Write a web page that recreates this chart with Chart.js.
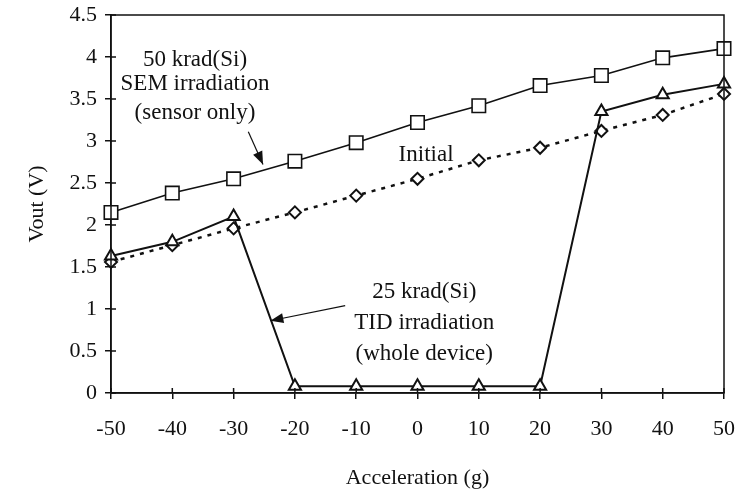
<!DOCTYPE html>
<html>
<head>
<meta charset="utf-8">
<script src="https://cdn.jsdelivr.net/npm/chart.js@4/dist/chart.umd.min.js"></script>
<style>
  body { margin: 0; background: #fff; }
  #wrap { width: 737px; height: 493px; }
</style>
</head>
<body>
<div id="wrap"><canvas id="voutChart"></canvas></div>
<script>
// acceleration steps (g)
const accel = [-50, -40, -30, -20, -10, 0, 10, 20, 30, 40, 50];
// Vout readings (V)
const semVout = [2.15, 2.38, 2.55, 2.76, 2.98, 3.22, 3.42, 3.66, 3.78, 3.99, 4.10];
const initialVout = [1.56, 1.76, 1.96, 2.15, 2.35, 2.55, 2.77, 2.92, 3.12, 3.31, 3.56];
const tidVout = [1.63, 1.80, 2.10, 0.08, 0.08, 0.08, 0.08, 0.08, 3.35, 3.55, 3.68];

const serif = "'Liberation Serif', 'Times New Roman', serif";
const ink = "#111";

// annotations placed in data coordinates (g, V)
const notes = [
    { text: "50 krad(Si)", g: -36.3, v: 3.96 },
    { text: "SEM irradiation", g: -36.3, v: 3.68 },
    { text: "(sensor only)", g: -36.3, v: 3.33 },
    { text: "Initial", g: 1.4, v: 2.83 },
    { text: "25 krad(Si)", g: 1.1, v: 1.20 },
    { text: "TID irradiation", g: 1.1, v: 0.83 },
    { text: "(whole device)", g: 1.1, v: 0.46 }
];
const arrows = [
    { from: [-27.6, 3.11], to: [-25.2, 2.72] },
    { from: [-11.8, 1.04], to: [-24.0, 0.86] }
];

// draws box frame, inner tick marks, labels and arrows
const decorPlugin = {
    id: "decor",
    afterDatasetsDraw(chart) {
        const { ctx, chartArea: a, scales: { x, y } } = chart;
        ctx.save();
        ctx.strokeStyle = ink;
        ctx.lineWidth = 1.5;
        ctx.strokeRect(a.left, a.top, a.right - a.left, a.bottom - a.top);

        // small ticks pointing inside the box
        ctx.beginPath();
        y.ticks.forEach(t => {
            const py = y.getPixelForValue(t.value);
            ctx.moveTo(a.left, py);
            ctx.lineTo(a.left + 5, py);
        });
        x.ticks.forEach(t => {
            const px = x.getPixelForValue(t.value);
            ctx.moveTo(px, a.bottom);
            ctx.lineTo(px, a.bottom - 5);
        });
        ctx.stroke();

        ctx.fillStyle = ink;
        ctx.font = "23px " + serif;
        ctx.textAlign = "center";
        ctx.textBaseline = "middle";
        notes.forEach(n => {
            ctx.fillText(n.text, x.getPixelForValue(n.g), y.getPixelForValue(n.v));
        });

        arrows.forEach(ar => {
            const x0 = x.getPixelForValue(ar.from[0]), y0 = y.getPixelForValue(ar.from[1]);
            const x1 = x.getPixelForValue(ar.to[0]), y1 = y.getPixelForValue(ar.to[1]);
            const ang = Math.atan2(y1 - y0, x1 - x0);
            ctx.lineWidth = 1.2;
            ctx.beginPath();
            ctx.moveTo(x0, y0);
            ctx.lineTo(x1, y1);
            ctx.stroke();
            const len = 13, half = 5;
            ctx.beginPath();
            ctx.moveTo(x1, y1);
            ctx.lineTo(x1 - len * Math.cos(ang) + half * Math.sin(ang), y1 - len * Math.sin(ang) - half * Math.cos(ang));
            ctx.lineTo(x1 - len * Math.cos(ang) - half * Math.sin(ang), y1 - len * Math.sin(ang) + half * Math.cos(ang));
            ctx.closePath();
            ctx.fill();
        });
        ctx.restore();
    }
};

const toPoints = vals => accel.map((g, i) => ({ x: g, y: vals[i] }));

new Chart(document.querySelector("#voutChart"), {
    type: "line",
    data: {
        datasets: [
            {
                label: "50 krad(Si) SEM",
                data: toPoints(semVout),
                borderColor: ink,
                borderWidth: 1.6,
                pointStyle: "rect",
                pointRadius: 9.5,
                pointBackgroundColor: "#fff",
                pointBorderColor: ink,
                pointBorderWidth: 1.6,
                clip: false
            },
            {
                label: "25 krad(Si) TID",
                data: toPoints(tidVout),
                borderColor: ink,
                borderWidth: 2,
                pointStyle: "triangle",
                pointRadius: 7,
                pointBackgroundColor: "#fff",
                pointBorderColor: ink,
                pointBorderWidth: 2,
                clip: false
            },
            {
                label: "Initial",
                data: toPoints(initialVout),
                borderColor: ink,
                borderWidth: 2.5,
                borderDash: [4, 6],
                pointStyle: "rectRot",
                pointRadius: 6,
                pointBackgroundColor: "#fff",
                pointBorderColor: ink,
                pointBorderWidth: 2,
                clip: false
            }
        ]
    },
    options: {
        responsive: true,
        maintainAspectRatio: false,
        animation: false,
        layout: { padding: { top: 15, right: 13, left: 0, bottom: 0 } },
        plugins: {
            legend: { display: false },
            tooltip: { enabled: false }
        },
        scales: {
            x: {
                type: "linear",
                min: -50,
                max: 50,
                afterFit: s => {
                    s.height = 100;
                    s.paddingLeft = 0;
                    s.paddingRight = 0;
                },
                ticks: {
                    stepSize: 10,
                    color: ink,
                    padding: 17,
                    font: { family: serif, size: 22 }
                },
                grid: { drawOnChartArea: false, tickLength: 6, color: ink, lineWidth: 1.5 },
                border: { color: ink, width: 1.5 },
                title: {
                    display: true,
                    text: "Acceleration (g)",
                    color: ink,
                    font: { family: serif, size: 22 },
                    padding: { bottom: 2 }
                }
            },
            y: {
                min: 0,
                max: 4.5,
                afterFit: s => {
                    s.width = 111;
                    s.paddingTop = 0;
                    s.paddingBottom = 0;
                },
                ticks: {
                    stepSize: 0.5,
                    color: ink,
                    padding: 8,
                    font: { family: serif, size: 22 },
                    callback: v => String(v)
                },
                grid: { drawOnChartArea: false, tickLength: 6, color: ink, lineWidth: 1.5 },
                border: { color: ink, width: 1.5 },
                title: {
                    display: true,
                    text: "Vout (V)",
                    color: ink,
                    font: { family: serif, size: 22 },
                    padding: { top: 24 }
                }
            }
        }
    },
    plugins: [decorPlugin]
});
</script>
</body>
</html>
